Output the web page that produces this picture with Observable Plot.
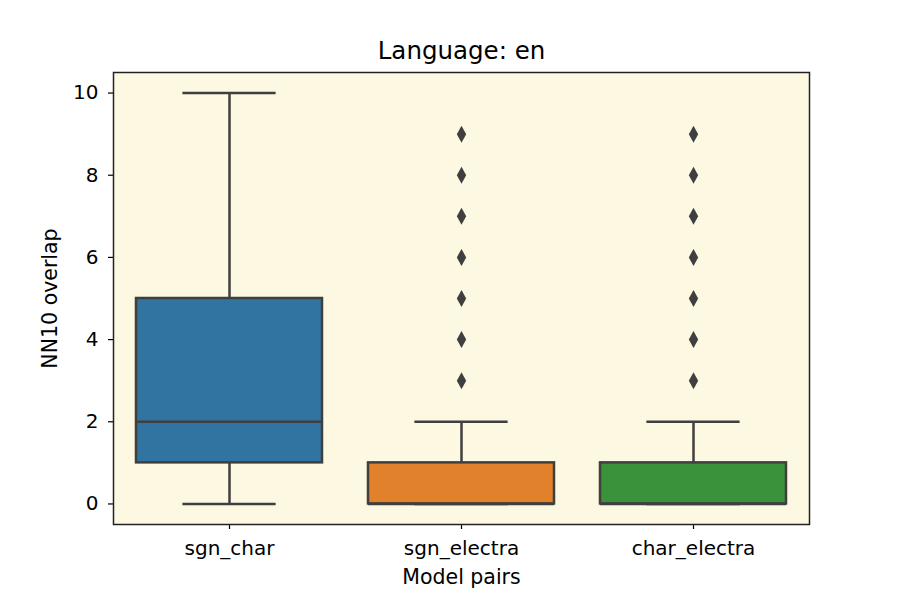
<!DOCTYPE html>
<html><head><meta charset="utf-8">
<script src="https://cdn.jsdelivr.net/npm/d3@7"></script>
<script src="https://cdn.jsdelivr.net/npm/@observablehq/plot@0.6"></script>
<style>
body{margin:0;background:#fff}
svg, svg text, svg g{font-family:"DejaVu Sans" !important}
</style>
</head><body><div id="chart"></div>
<script>
const categories = ["sgn_char", "sgn_electra", "char_electra"];
const q1 = [1, 0, 0];
const medians = [2, 0, 0];
const q3 = [5, 1, 1];
const whiskerLow = [0, 0, 0];
const whiskerHigh = [10, 2, 2];
const outliers = [[], [3, 4, 5, 6, 7, 8, 9], [3, 4, 5, 6, 7, 8, 9]];
const colors = ["#3274a1", "#e1812c", "#3a923a"];
const yTicks = [0, 2, 4, 6, 8, 10];

const boxes = categories.map((c, i) => ({
  cat: c, q1: q1[i], med: medians[i], q3: q3[i],
  lo: whiskerLow[i], hi: whiskerHigh[i], color: colors[i]
}));
const fliers = categories.flatMap((c, i) => outliers[i].map(v => ({cat: c, v})));

const thinDiamond = {
  draw(ctx, size) {
    const r = Math.sqrt(size / Math.PI);
    const w = r * 0.55;
    ctx.moveTo(0, -r); ctx.lineTo(w, 0); ctx.lineTo(0, r); ctx.lineTo(-w, 0); ctx.closePath();
  }
};

const W = 900, H = 600;
const mL = 113, mR = 91, mT = 72, mB = 76;
const band = (W - mL - mR) / categories.length * 0.8;
const capInset = band / 4;
const ink = "#3f3f3f";
const font = "DejaVu Sans";

const chart = Plot.plot({
  width: W, height: H,
  marginLeft: mL, marginRight: mR, marginTop: mT, marginBottom: mB,
  style: {fontSize: "20px", fontFamily: font, color: "#000", background: "#fff"},
  x: {domain: categories, paddingInner: 0.2, paddingOuter: 0.1, label: null},
  y: {domain: [-0.5, 10.5], label: null},
  marks: [
    Plot.frame({fill: "#fdf8e1"}),
    Plot.ruleX(boxes, {x: "cat", y1: "q3", y2: "hi", stroke: ink, strokeWidth: 2.5}),
    Plot.ruleX(boxes, {x: "cat", y1: "lo", y2: "q1", stroke: ink, strokeWidth: 2.5}),
    Plot.tickY(boxes, {x: "cat", y: "hi", stroke: ink, strokeWidth: 2.5, insetLeft: capInset, insetRight: capInset}),
    Plot.tickY(boxes, {x: "cat", y: "lo", stroke: ink, strokeWidth: 2.5, insetLeft: capInset, insetRight: capInset}),
    Plot.barY(boxes, {x: "cat", y1: "q1", y2: "q3", fill: "color", stroke: ink, strokeWidth: 2.5}),
    Plot.tickY(boxes, {x: "cat", y: "med", stroke: ink, strokeWidth: 2.5}),
    Plot.dot(fliers, {x: "cat", y: "v", symbol: thinDiamond, r: 8.5, fill: ink, stroke: "none"}),
    Plot.axisY({ticks: yTicks, tickSize: 5, tickPadding: 10, stroke: "#000", strokeWidth: 1.2, label: null, fontSize: 20, fontFamily: font}),
    Plot.axisX({tickSize: 5, tickPadding: 11, strokeWidth: 1.2, label: null, fontSize: 20, fontFamily: font}),
    Plot.frame({stroke: "#222", strokeWidth: 1.5}),
    Plot.text(["Language: en"], {frameAnchor: "top", lineAnchor: "middle", dy: -21, fontSize: 24.5, fontFamily: font, fill: "#000"}),
    Plot.text(["Model pairs"], {frameAnchor: "bottom", lineAnchor: "middle", dy: 53, fontSize: 20.5, fontFamily: font, fill: "#000"}),
    Plot.text(["NN10 overlap"], {frameAnchor: "left", textAnchor: "middle", lineAnchor: "middle", dx: -63, rotate: -90, fontSize: 20.5, fontFamily: font, fill: "#000"})
  ]
});
document.getElementById("chart").appendChild(chart);
</script>
</body></html>
